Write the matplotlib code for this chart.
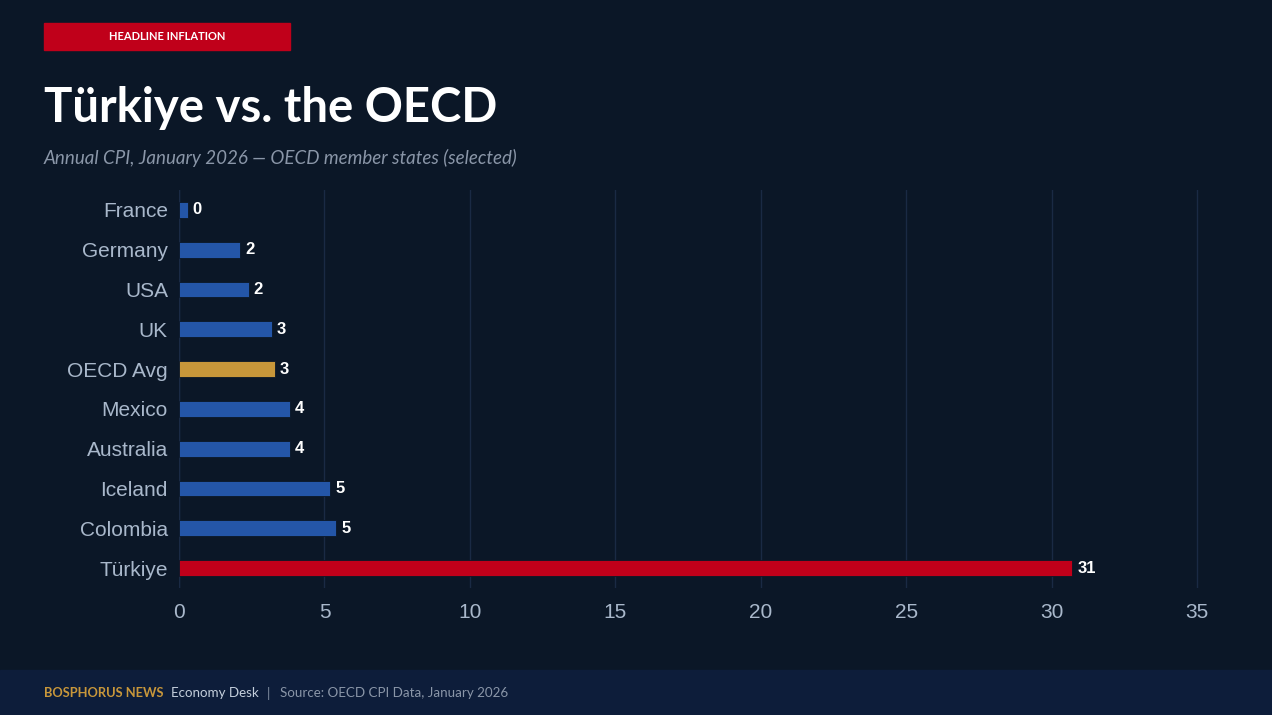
"""
turkiye-vs-oecd
  horizontal bar chart of annual CPI, January 2026, for selected OECD states
"""

import matplotlib
matplotlib.use('Agg')
import matplotlib.pyplot as plt
from matplotlib.patches import Rectangle

# house colours
BG = '#0b1727'
FOOTER_BG = '#0d1d3a'
BLUE = '#2456a8'
GOLD = '#c8973a'
RED = '#c0001a'
GRID = '#1a2a44'
TICK = '#a9b8cb'
SUB = '#8a96a8'

# data
countries = ['France', 'Germany', 'USA', 'UK', 'OECD Avg', 'Mexico',
             'Australia', 'Iceland', 'Colombia', 'Türkiye']
cpi = [0.3, 2.1, 2.4, 3.2, 3.3, 3.8, 3.8, 5.2, 5.4, 30.7]
highlight = {'OECD Avg': GOLD, 'Türkiye': RED}
xticks = [0, 5, 10, 15, 20, 25, 30, 35]

fig = plt.figure(figsize=(12.72, 7.15), dpi=100, facecolor=BG)
W, H = 1272, 715

# plot area in pixels: left 179, right 1241, top 190, bottom 588
ax = fig.add_axes([179 / W, 1 - 588 / H, (1241 - 179) / W, (588 - 190) / H])
ax.set_facecolor(BG)

colors = [highlight.get(c, BLUE) for c in countries]
ypos = list(range(len(countries)))
bars = ax.barh(ypos, cpi, height=0.4, color=colors, edgecolor=BG,
               linewidth=0.6, zorder=3)

for y, v in zip(ypos, cpi):
    ax.text(v + 0.17, y, f'{v:.0f}', va='center', ha='left', color='white',
            fontsize=12, fontweight='bold', family='Liberation Sans', zorder=4)

ax.set_yticks(ypos)
ax.set_yticklabels(countries, family='Liberation Sans', fontsize=15, color=TICK)
ax.set_ylim(9.5, -0.5)
ax.set_xlim(0, 36.5)
ax.set_xticks(xticks)
ax.set_xticklabels([str(t) for t in xticks], family='Liberation Sans',
                   fontsize=15, color=TICK)
ax.tick_params(axis='y', length=0, pad=8)
ax.tick_params(axis='x', length=0, pad=11)
ax.grid(axis='x', color=GRID, linewidth=1, zorder=0)
ax.grid(axis='y', visible=False)
for s in ax.spines.values():
    s.set_visible(False)
ax.axvline(0, color=GRID, linewidth=1, zorder=1)

# header tag
fig.patches.append(Rectangle((44 / W, 1 - 50 / H), 246 / W, 27 / H,
                             transform=fig.transFigure, color=RED))
fig.text(167 / W, 1 - 37 / H, 'HEADLINE INFLATION', ha='center', va='center',
         color='white', fontsize=8, fontweight='bold', family='Lato')

# title + subtitle
fig.text(44 / W, 1 - 122 / H, 'Türkiye vs. the OECD', ha='left', va='baseline',
         color='white', fontsize=34, fontweight='bold', family='Lato')
fig.text(44 / W, 1 - 158 / H,
         'Annual CPI, January 2026 — OECD member states (selected)',
         ha='left', va='center', color=SUB, fontsize=13.5, style='italic',
         family='Lato')

# footer band
fig.patches.append(Rectangle((0, 0), 1, 45 / H, transform=fig.transFigure,
                             color=FOOTER_BG))
fy = 1 - 693 / H
fig.text(44 / W, fy, 'BOSPHORUS NEWS', ha='left', va='center', color=GOLD,
         fontsize=9.3, fontweight='bold', family='Lato')
fig.text(171 / W, fy, 'Economy Desk', ha='left', va='center', color='#c4cfdc',
         fontsize=9.6, family='Lato')
fig.text(268 / W, fy, '|', ha='center', va='center', color=SUB,
         fontsize=9.6, family='Lato')
fig.text(280 / W, fy, 'Source: OECD CPI Data, January 2026', ha='left',
         va='center', color=SUB, fontsize=9.6, family='Lato')

fig.savefig('out.png', dpi=100, facecolor=BG)
